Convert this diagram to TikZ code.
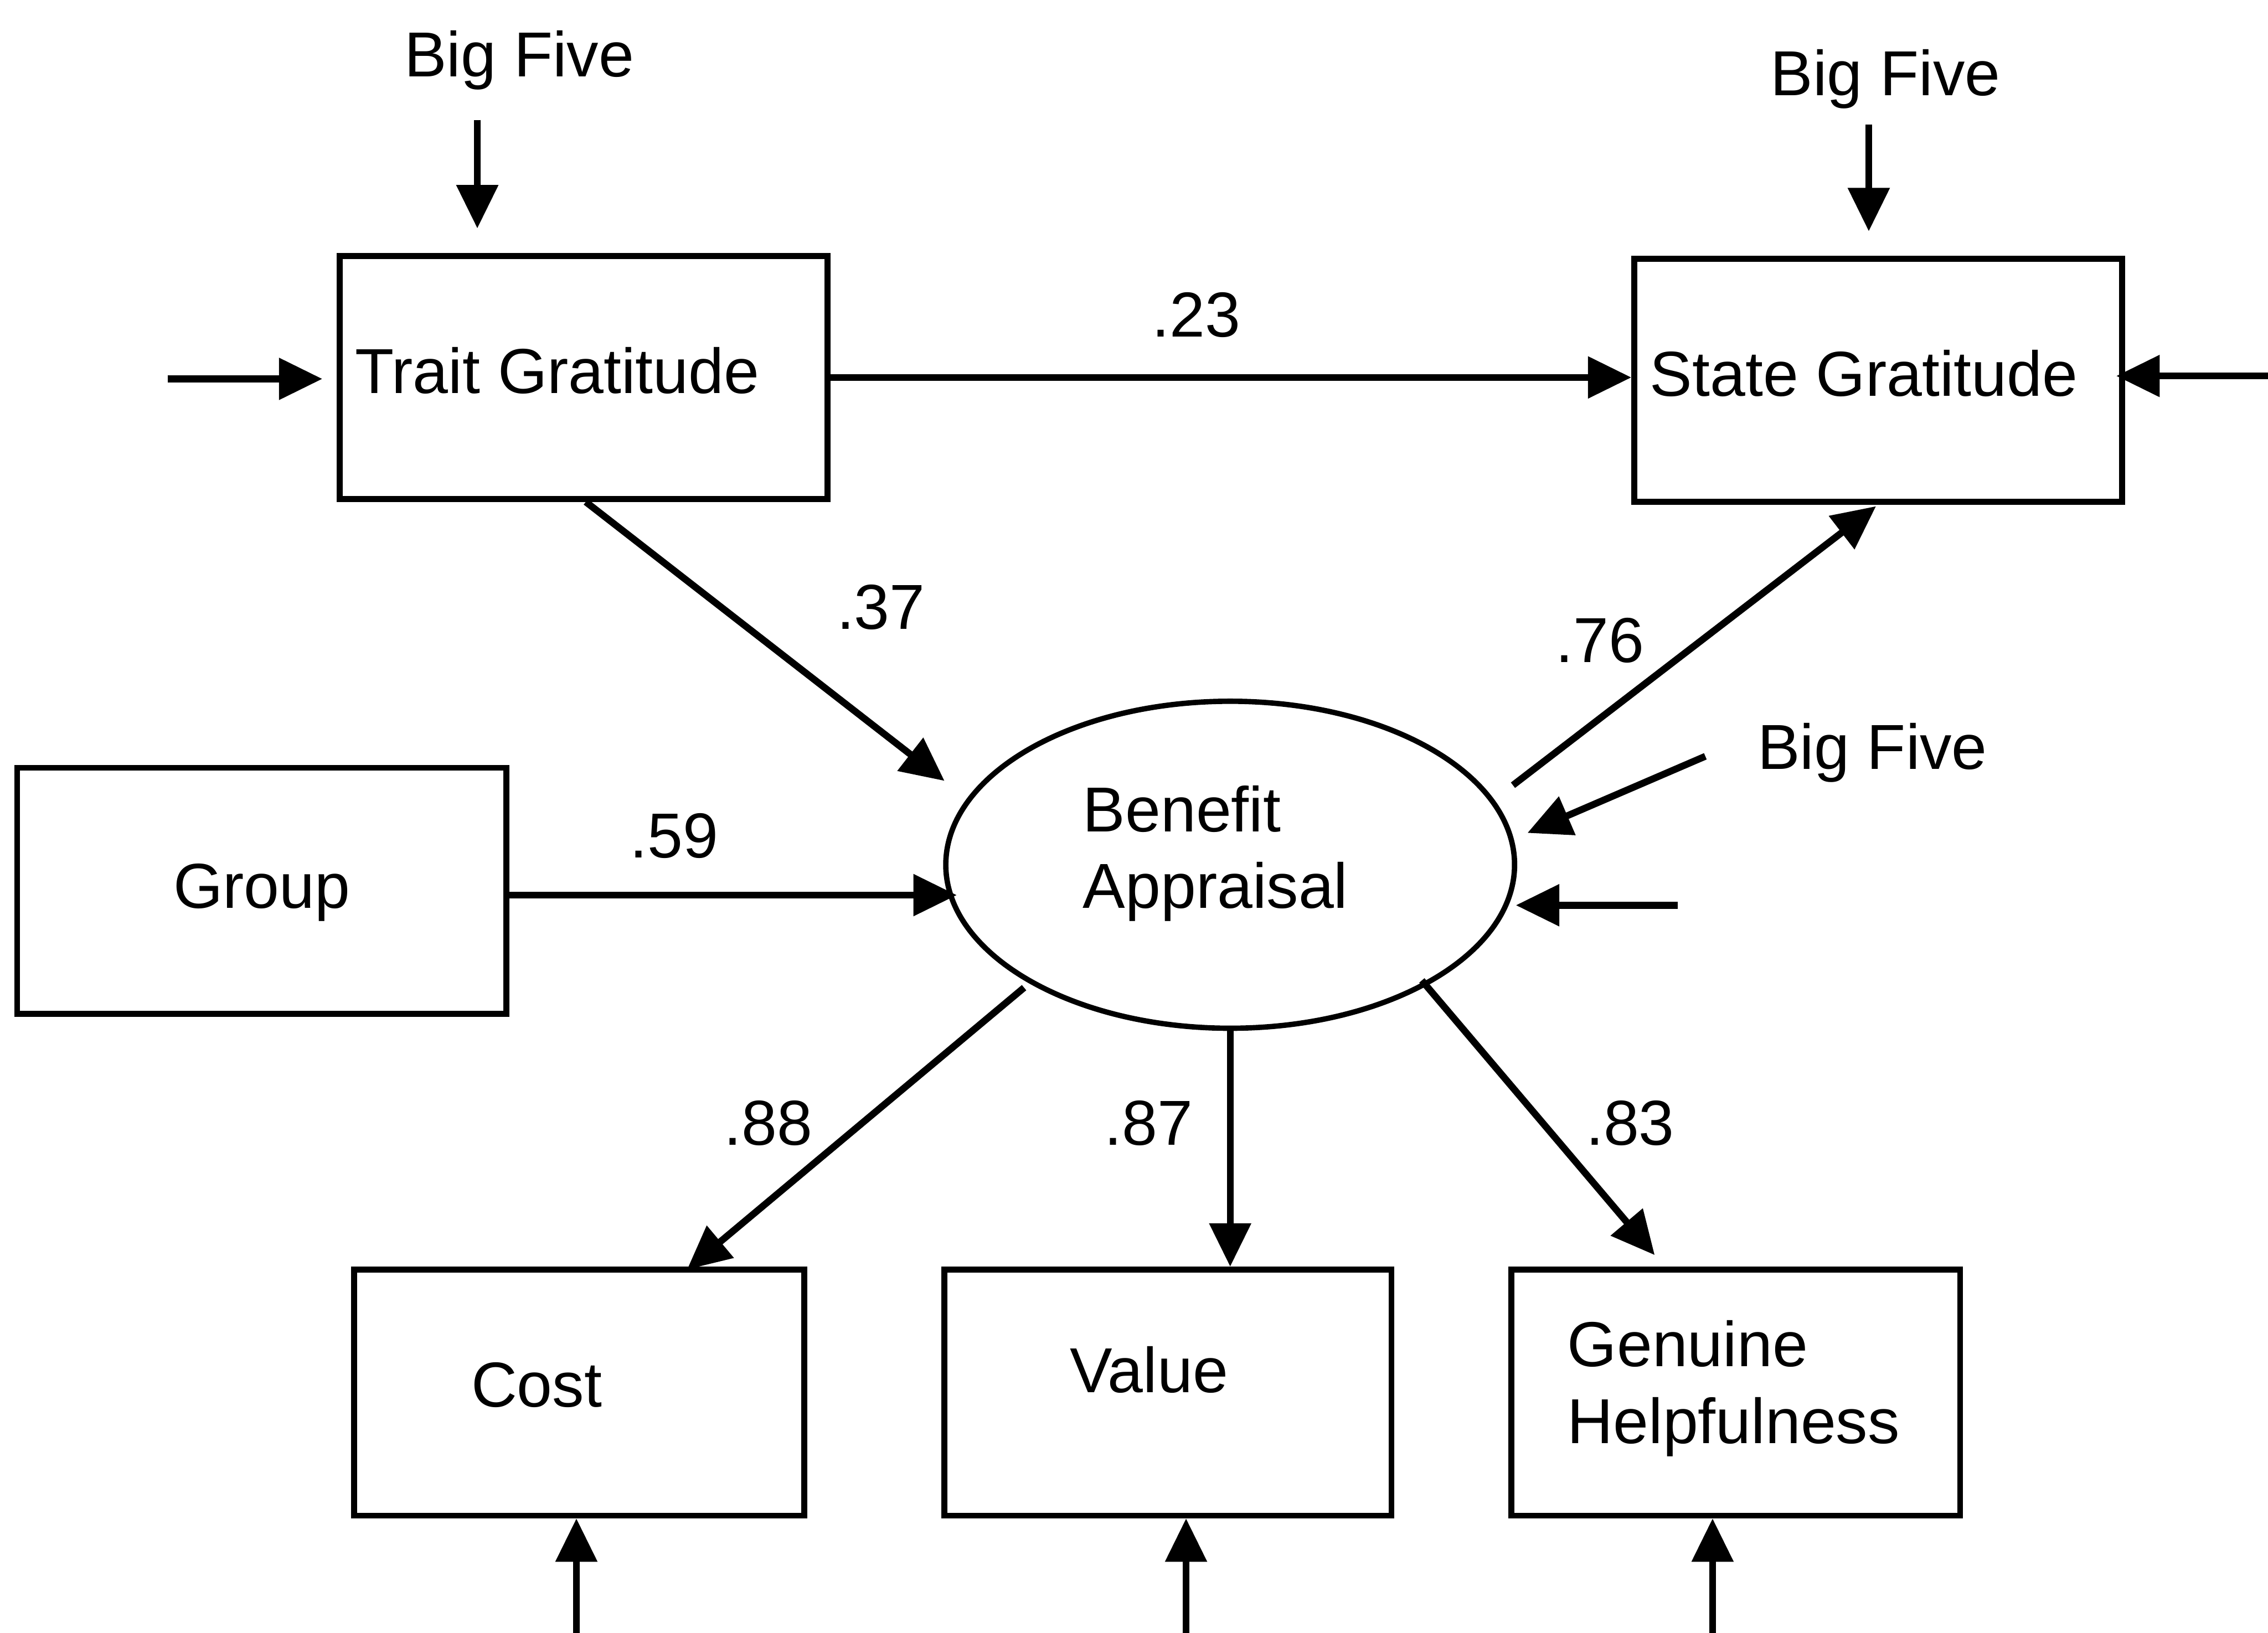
\documentclass[tikz,border=0pt]{standalone}
\usepackage{fontspec}
\setmainfont{Liberation Sans}
\usetikzlibrary{arrows.meta,calc,shapes.geometric}

\begin{document}
\begin{tikzpicture}[x=0.01cm,y=-0.01cm,
  font=\fontsize{12.5pt}{15pt}\selectfont,
  box/.style={draw,line width=1.15pt,rectangle,inner sep=0pt},
  latent/.style={draw,line width=1.05pt,ellipse,inner sep=0pt,
                 minimum width=3.93cm,minimum height=2.26cm},
  lbl/.style={inner sep=0pt,anchor=base},
  lblw/.style={inner sep=0pt,anchor=base west},
  arr/.style={line width=1.35pt,-{Triangle[length=0.3cm,width=0.28cm]}},
]
\useasboundingbox (0,0) rectangle (1568,1129);

% observed variables
\node[box,minimum width=3.37cm,minimum height=1.68cm] (tg)   at (403.5,261) {};
\node[box,minimum width=3.37cm,minimum height=1.68cm] (sg)   at (1298.5,263) {};
\node[box,minimum width=3.38cm,minimum height=1.70cm] (grp)  at (181,616) {};
\node[box,minimum width=3.11cm,minimum height=1.70cm] (cost) at (400.5,963) {};
\node[box,minimum width=3.09cm,minimum height=1.70cm] (val)  at (807.5,963) {};
\node[box,minimum width=3.10cm,minimum height=1.70cm] (gh)   at (1200,963) {};

% latent variable
\node[latent] (ba) at (850.5,598) {};

% texts
\node[lblw] (tgtxt)  at (245,272)  {Trait Gratitude};
\node[lblw] (sgtxt)  at (1140,274) {State Gratitude};
\node[lbl]  (grptxt) at (181,628)  {Group};
\node[lblw] (batxt1) at (748,575)  {Benefit};
\node[lblw] (batxt2) at (748,628)  {Appraisal};
\node[lbl]  (costtxt) at (371,973) {Cost};
\node[lbl]  (valtxt)  at (794.5,963) {Value};
\node[lblw] (ghtxt1) at (1083,945) {Genuine};
\node[lblw] (ghtxt2) at (1083,998) {Helpfulness};

\node[lbl] (bf1) at (359,53)    {Big Five};
\node[lbl] (bf2) at (1303.5,66) {Big Five};
\node[lbl] (bf3) at (1294.5,532) {Big Five};

% path coefficients
\node[lbl] (c23) at (827,233)  {.23};
\node[lbl] (c37) at (609,435)  {.37};
\node[lbl] (c76) at (1106,458) {.76};
\node[lbl] (c59) at (466,593)  {.59};
\node[lbl] (c88) at (531,792)  {.88};
\node[lbl] (c87) at (794,792)  {.87};
\node[lbl] (c83) at (1127,792) {.83};

% influences on trait gratitude
\draw[arr] ($(tg.north)+(-73.5,-92)$) -- ($(tg.north)+(-73.5,-17)$);
\draw[arr] ($(tg.west)+(-117,1)$) -- ($(tg.west)+(-10,1)$);

% influences on state gratitude
\draw[arr] (tg.east) -- (tg.east -| sg.west);
\draw[arr] ($(sg.north)+(-6.5,-91)$) -- ($(sg.north)+(-6.5,-17)$);
\draw[arr] ($(sg.east)+(101,-3)$) -- ($(sg.east)+(-6,-3)$);
\draw[arr] ($(ba.center)+(195.5,-55)$) -- ($(sg.south)+(-1.5,1)$);

% influences on benefit appraisal
\draw[arr] ($(tg.south)+(1.5,0)$) -- ($(ba.center)+(-197.5,-58)$);
\draw[arr] ($(grp.east)+(-4,3)$) -- ($(ba.center)+(-189,21)$);
\draw[arr] ($(ba.center)+(328.5,-75)$) -- ($(ba.center)+(205.5,-22)$);
\draw[arr] ($(ba.center)+(309.5,28)$) -- ($(ba.center)+(197.5,28)$);

% indicators
\draw[arr] ($(ba.center)+(-142.5,85)$) -- ($(cost.north)+(74.5,2)$);
\draw[arr] (ba.south) -- (ba.south |- val.north);
\draw[arr] ($(ba.center)+(132.5,80)$) -- ($(gh.north)+(-56,-8)$);

% indicator residuals
\draw[arr] ($(cost.south)+(-2,81)$) -- ($(cost.south)+(-2,0)$);
\draw[arr] ($(val.south)+(12.5,81)$) -- ($(val.south)+(12.5,0)$);
\draw[arr] ($(gh.south)+(-16,81)$) -- ($(gh.south)+(-16,0)$);
\end{tikzpicture}
\end{document}
